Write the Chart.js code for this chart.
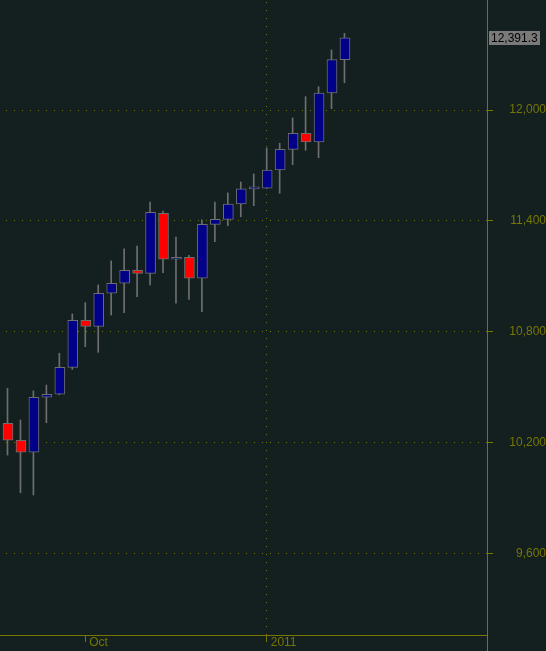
<!DOCTYPE html>
<html>
<head>
<meta charset="utf-8">
<script src="https://cdn.jsdelivr.net/npm/chart.js@4"></script>
<style>
html,body{margin:0;padding:0;background:#142020;}
#wrap{width:546px;height:651px;position:relative;}
canvas{display:block;}
</style>
</head>
<body>
<div id="wrap"><canvas id="c"></canvas></div>
<script>
// Weekly candles (week start dates)
const weeks = ['2010-08-16','2010-08-23','2010-08-30','2010-09-07','2010-09-13','2010-09-20','2010-09-27',
  '2010-10-04','2010-10-11','2010-10-18','2010-10-25','2010-11-01','2010-11-08','2010-11-15','2010-11-22',
  '2010-11-29','2010-12-06','2010-12-13','2010-12-20','2010-12-27','2011-01-03','2011-01-10','2011-01-18',
  '2011-01-24','2011-01-31','2011-02-07','2011-02-14'];
const openV  = [10304,10212,10147,10445,10461,10607,10862,10829,11008,11062,11132,11116,11441,11192,11203,11089,11381,11408,11491,11573,11577,11675,11787,11874,11827,12092,12273];
const highV  = [10493,10322,10479,10511,10683,10896,10957,11053,11183,11248,11264,11502,11453,11312,11213,11405,11502,11551,11610,11654,11794,11820,11957,12072,12126,12325,12415];
const lowV   = [10132, 9928, 9916,10307,10458,10596,10719,10688,10890,10903,10989,11053,11119,10954,10975,10908,11287,11374,11422,11482,11574,11549,11704,11782,11742,12007,12148];
const closeV = [10212,10147,10445,10461,10607,10862,10829,11008,11062,11132,11116,11446,11192,11203,11089,11381,11408,11491,11573,11577,11675,11787,11874,11827,12092,12273,12391.3];
const yTicks = [9600,10200,10800,11400,12000];
const xTickLabels = ['Oct','2011'];
const xTickWeeks = ['2010-09-27','2011-01-03'];

const OLIVE = '#767600';
const FONT = '"Liberation Sans", Arial, sans-serif';
const UP = '#000088', DOWN = '#ff0000', EDGE = '#6e6e6e';

const xTickIdx = xTickWeeks.map(w => weeks.indexOf(w));
const bodies = weeks.map((w, i) => ({x: i, y: [openV[i], closeV[i]]}));
const wicks  = weeks.map((w, i) => ({x: i, y: [lowV[i], highV[i]]}));
const fills  = weeks.map((w, i) => closeV[i] >= openV[i] ? UP : DOWN);

// visible week range of the time axis (in week slots)
const X_MIN = -0.5787, X_MAX = 36.998;      // wick / label axis
const XB_MIN = -0.6173, XB_MAX = 36.960;    // body axis (bodies sit half a pixel right of wicks)

const extras = {
  id: 'extras',
  afterDraw(chart) {
    const ctx = chart.ctx, y = chart.scales.y, ca = chart.chartArea;
    ctx.save();
    ctx.strokeStyle = OLIVE; ctx.lineWidth = 1;
    ctx.beginPath(); ctx.moveTo(Math.round(ca.right) + 0.5, ca.bottom); ctx.lineTo(Math.round(ca.right) + 0.5, chart.height); ctx.stroke();
    const last = closeV[closeV.length - 1];
    const py = y.getPixelForValue(last);
    ctx.fillStyle = '#7a7a7a';
    ctx.fillRect(489, Math.round(py) - 7, 51, 14);
    ctx.fillStyle = '#000000';
    ctx.font = '12px ' + FONT;
    ctx.textAlign = 'left'; ctx.textBaseline = 'middle';
    ctx.fillText(last.toLocaleString('en-US', {minimumFractionDigits: 1, maximumFractionDigits: 1}), 491, Math.round(py) + 0.5);
    ctx.restore();
  }
};

new Chart(document.getElementById('c'), {
  type: 'bar',
  data: {
    datasets: [
      {data: bodies, xAxisID: 'xb', backgroundColor: fills, borderColor: EDGE, borderWidth: 1, borderSkipped: false,
       barThickness: 10, minBarLength: 2, grouped: false},
      {data: wicks, xAxisID: 'x', backgroundColor: EDGE, borderWidth: 0, barThickness: 1, grouped: false}
    ]
  },
  options: {
    responsive: true, maintainAspectRatio: false, animation: false,
    layout: {padding: 0},
    plugins: {legend: {display: false}, tooltip: {enabled: false}},
    scales: {
      x: {
        type: 'linear', min: X_MIN, max: X_MAX, offset: false,
        afterBuildTicks: s => { s.ticks = xTickIdx.map(v => ({value: v})); },
        afterFit: s => { s.height = 16; s.paddingLeft = 0; s.paddingRight = 0; s.paddingTop = 0; s.paddingBottom = 0; },
        ticks: {
          autoSkip: false, maxRotation: 0, minRotation: 0, align: 'start', labelOffset: 4, padding: -7,
          color: OLIVE, font: {family: FONT, size: 12},
          callback: v => { const k = xTickIdx.indexOf(v); return k >= 0 ? xTickLabels[k] : ''; }
        },
        grid: {
          offset: false, lineWidth: 1, tickLength: 7, tickColor: OLIVE,
          color: c => (c.index === 1 ? OLIVE : 'rgba(0,0,0,0)')
        },
        border: {display: true, color: OLIVE, width: 1, dash: [1, 7], dashOffset: 6}
      },
      xb: {
        type: 'linear', display: false, min: XB_MIN, max: XB_MAX, offset: false
      },
      y: {
        type: 'linear', position: 'right', min: 9157.9, max: 12595.5,
        afterBuildTicks: s => { s.ticks = yTicks.map(v => ({value: v})); },
        afterFit: s => { s.width = 59; s.paddingTop = 0; s.paddingBottom = 0; s.paddingLeft = 0; s.paddingRight = 0; },
        ticks: {
          crossAlign: 'far', padding: 3, color: OLIVE, font: {family: FONT, size: 12},
          callback: v => Number(v).toLocaleString('en-US')
        },
        grid: {lineWidth: 1, tickLength: 6, tickColor: OLIVE, color: OLIVE},
        border: {display: true, color: OLIVE, width: 1, dash: [1, 7], dashOffset: 2}
      }
    }
  },
  plugins: [extras]
});
</script>
</body>
</html>
